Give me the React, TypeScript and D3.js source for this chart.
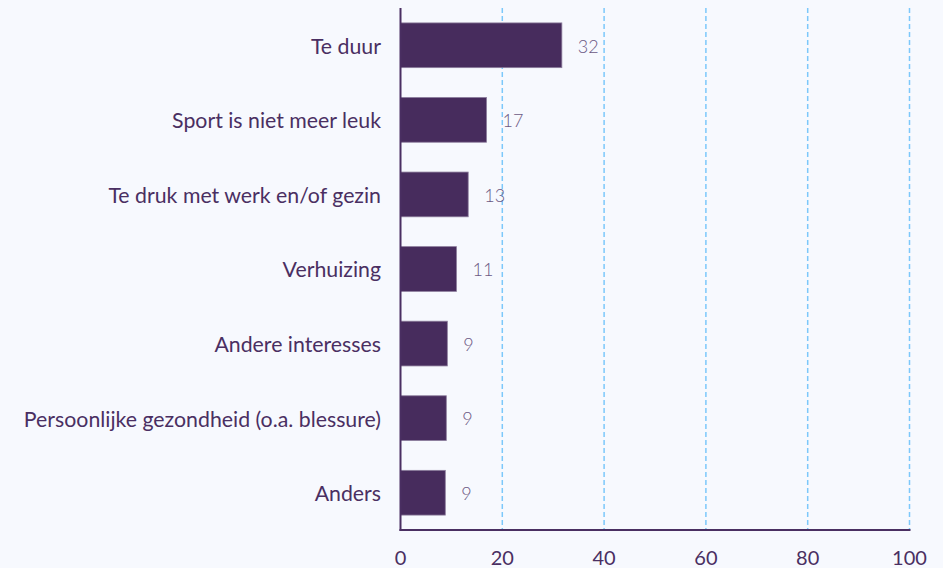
import React, { useEffect, useRef } from 'react';
import * as d3 from 'd3';

const categories = [
  'Te duur',
  'Sport is niet meer leuk',
  'Te druk met werk en/of gezin',
  'Verhuizing',
  'Andere interesses',
  'Persoonlijke gezondheid (o.a. blessure)',
  'Anders',
];
const values = [31.7, 16.9, 13.3, 11.0, 9.2, 9.0, 8.8];
const xTicks = [0, 20, 40, 60, 80, 100];

const width = 943;
const height = 568;

const App: React.FC = () => {
  const svgRef = useRef<SVGSVGElement>(null);

  useEffect(() => {
    if (!svgRef.current) return;
    const svg = d3.select(svgRef.current);
    svg.selectAll('*').remove();

    const left = 400.5;
    const right = 909.5;
    const top = 8;
    const bottom = 530;

    const x = d3.scaleLinear().domain([0, 100]).range([left, right]);
    const y = d3.scaleBand<string>().domain(categories).range([top, bottom]).paddingInner(0.4).paddingOuter(0.2);

    const data = categories.map((c, i) => ({ label: c, value: values[i] }));

    // grid lines
    svg.append('g')
      .selectAll('line')
      .data(xTicks.filter(t => t > 0))
      .enter()
      .append('line')
      .attr('x1', d => x(d))
      .attr('x2', d => x(d))
      .attr('y1', top)
      .attr('y2', bottom)
      .style('stroke', '#7cc8fb')
      .style('stroke-width', 1.5)
      .style('stroke-dasharray', '5,3');

    // bars
    svg.append('g')
      .selectAll('rect')
      .data(data)
      .enter()
      .append('rect')
      .attr('x', x(0))
      .attr('y', d => y(d.label)!)
      .attr('width', d => x(d.value) - x(0))
      .attr('height', y.bandwidth())
      .style('fill', '#472c5d')
      .style('stroke', '#8c7d9c')
      .style('stroke-width', 0.8);

    // value labels
    svg.append('g')
      .selectAll('text')
      .data(data)
      .enter()
      .append('text')
      .attr('x', d => x(d.value) + 16)
      .attr('y', d => y(d.label)! + y.bandwidth() / 2 + 1)
      .attr('dy', '0.35em')
      .style('font-family', 'Lato')
      .style('font-weight', 300)
      .style('font-size', '18px')
      .style('fill', '#6b5883')
      .text(d => Math.round(d.value));

    // category labels
    svg.append('g')
      .selectAll('text')
      .data(data)
      .enter()
      .append('text')
      .attr('x', 381)
      .attr('y', d => y(d.label)! + y.bandwidth() / 2 + 1)
      .attr('dy', '0.35em')
      .style('text-anchor', 'end')
      .style('font-family', 'Lato')
      .style('font-size', '21.3px')
      .style('fill', '#4a2f62')
      .text(d => d.label);

    // axes lines
    svg.append('line')
      .attr('x1', left).attr('x2', left)
      .attr('y1', top).attr('y2', bottom + 1)
      .style('stroke', '#4a2f62')
      .style('stroke-width', 2);
    svg.append('line')
      .attr('x1', left - 1).attr('x2', right + 1)
      .attr('y1', bottom).attr('y2', bottom)
      .style('stroke', '#4a2f62')
      .style('stroke-width', 2);

    // tick labels
    svg.append('g')
      .selectAll('text')
      .data(xTicks)
      .enter()
      .append('text')
      .attr('x', d => x(d))
      .attr('y', 565)
      .style('text-anchor', 'middle')
      .style('font-family', 'Lato')
      .style('font-size', '20px')
      .style('fill', '#4a2f62')
      .text(d => d);
  }, []);

  return (
    <div style={{ position: 'fixed', left: 0, top: 0, width, height, background: '#f7f9fe' }}>
      <svg ref={svgRef} width={width} height={height} style={{ display: 'block' }} />
    </div>
  );
};

export default App;
